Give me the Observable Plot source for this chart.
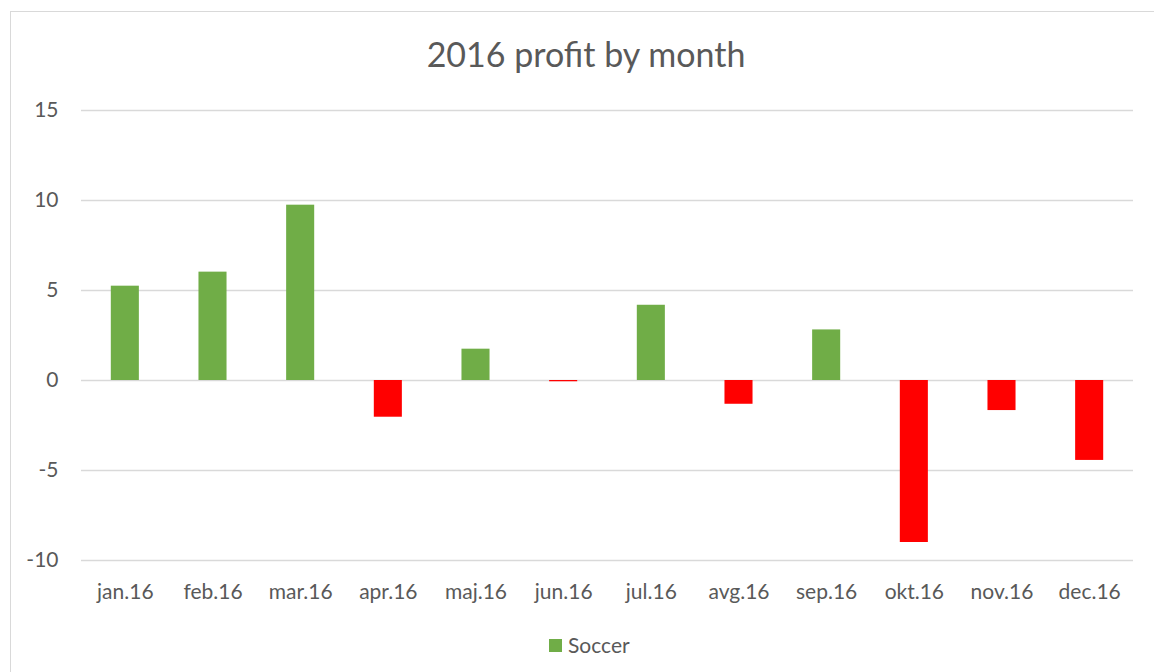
<!DOCTYPE html>
<html>
<head>
<meta charset="utf-8">
<script src="https://cdn.jsdelivr.net/npm/d3@7"></script>
<script src="https://cdn.jsdelivr.net/npm/@observablehq/plot@0.6"></script>
<style>
  html, body { margin: 0; padding: 0; background: #fff; }
  #wrap { position: relative; width: 1154px; height: 672px; overflow: hidden; font-family: Lato, "Open Sans", sans-serif; color: #595959; }
  #chart { position: absolute; left: 0; top: 0; }
  #title { position: absolute; left: 0; width: 1172px; top: 34px; text-align: center; font-size: 34px; line-height: 40px; white-space: nowrap; }
  #legend { position: absolute; left: 549px; top: 632px; font-size: 21px; line-height: 26px; display: flex; align-items: center; white-space: nowrap; }
  #legend .sw { width: 13px; height: 13px; background: #70AD47; margin-right: 6px; }
  .frameTop { position: absolute; left: 10px; top: 11px; width: 1144px; height: 1px; background: #d9d9d9; }
  .frameLeft { position: absolute; left: 10px; top: 11px; width: 1px; height: 661px; background: #d9d9d9; }
</style>
</head>
<body>
<div id="wrap">
  <div id="chart"></div>
  <div class="frameTop"></div>
  <div class="frameLeft"></div>
  <div id="title">2016 profit by month</div>
  <div id="legend"><span class="sw"></span><span>Soccer</span></div>
</div>
<script>
const months = ["jan.16", "feb.16", "mar.16", "apr.16", "maj.16", "jun.16", "jul.16", "avg.16", "sep.16", "okt.16", "nov.16", "dec.16"];
const profit = [5.24, 6.02, 9.74, -2.04, 1.74, -0.07, 4.18, -1.32, 2.81, -9.0, -1.67, -4.44];
const yTicks = [-10, -5, 0, 5, 10, 15];
const seriesName = "Soccer";
const positiveColor = "#70AD47";
const negativeColor = "#FF0000";

const data = months.map((m, i) => ({month: m, value: profit[i], series: seriesName}));

const chart = Plot.plot({
  width: 1154,
  height: 620,
  marginTop: 110,
  marginBottom: 60,
  marginLeft: 81,
  marginRight: 21,
  style: {background: "transparent", fontFamily: "Lato, 'Open Sans', sans-serif", fontSize: "21px", color: "#595959", overflow: "visible"},
  x: {domain: months, paddingInner: 0.68, paddingOuter: 0.34, round: false, label: null},
  y: {domain: [-10, 15], label: null},
  marks: [
    Plot.ruleY(yTicks, {stroke: "#d9d9d9", strokeWidth: 1.3}),
    Plot.barY(data.filter(d => d.value >= 0), {x: "month", y: "value", fill: positiveColor}),
    Plot.barY(data.filter(d => d.value < 0), {x: "month", y: "value", fill: negativeColor}),
    Plot.axisY({ticks: yTicks, tickSize: 0, tickPadding: 23, tickFormat: d => String(d), label: null, fill: "#595959"}),
    Plot.axisX({tickSize: 0, tickPadding: 24, label: null, fill: "#595959"})
  ]
});
document.getElementById("chart").appendChild(chart);
</script>
</body>
</html>
